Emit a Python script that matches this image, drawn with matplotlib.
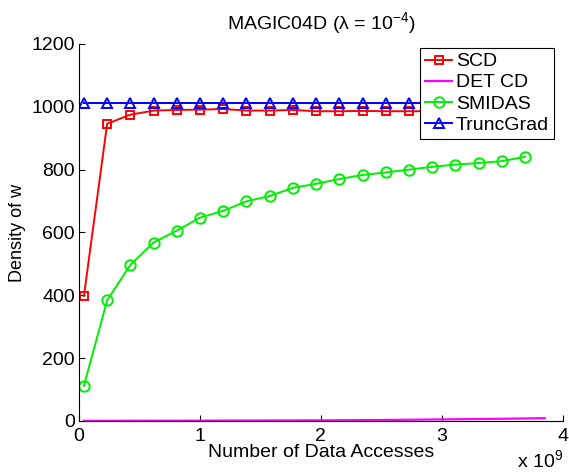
import matplotlib
matplotlib.use('Agg')
import matplotlib.pyplot as plt

plt.rcParams['font.family'] = ['Liberation Sans', 'DejaVu Sans']
plt.rcParams['mathtext.fontset'] = 'custom'
plt.rcParams['mathtext.rm'] = 'Liberation Sans'
plt.rcParams['mathtext.it'] = 'Liberation Sans:italic'

# data accesses (in units of 1e9)
x_steps = [0.04, 0.232, 0.424, 0.616, 0.808, 1.0, 1.192, 1.384, 1.576, 1.768,
           1.96, 2.152, 2.344, 2.536, 2.728, 2.92, 3.112, 3.304, 3.496, 3.688]

scd = [398, 946, 975, 988, 990, 991, 993, 988, 988, 990,
       986, 986, 987, 986, 986, 986, 986, 986, 986, 986]
truncgrad = [1012] * 20
smidas = [112, 384, 497, 568, 606, 647, 669, 699, 716, 742,
          755, 770, 783, 791, 800, 809, 816, 821, 827, 841]

det_x = [0.04, 1.0, 2.0, 2.5, 3.0, 3.5, 3.85]
det_cd = [0.5, 1, 2, 3, 5, 7, 9]

fig = plt.figure(figsize=(5.69, 4.73), dpi=100)
ax = fig.add_axes([0.139, 0.110, 0.850, 0.797])

ax.plot(x_steps, scd, color='red', lw=1.4, marker='s', ms=6, mfc='none', mew=1.4, label='SCD')
ax.plot(det_x, det_cd, color='magenta', lw=1.6, label='DET CD')
ax.plot(x_steps, smidas, color='#00ee00', lw=1.4, marker='o', ms=7.5, mfc='none', mew=1.4, label='SMIDAS')
ax.plot(x_steps, truncgrad, color='blue', lw=1.4, marker='^', ms=6.5, mfc='none', mew=1.4, label='TruncGrad')

ax.set_xlim(0, 4)
ax.set_ylim(0, 1200)
ax.set_xticks([0, 1, 2, 3, 4])
ax.set_yticks([0, 200, 400, 600, 800, 1000, 1200])
ax.spines['top'].set_visible(False)
ax.spines['right'].set_visible(False)
ax.tick_params(direction='in', length=4, labelsize=14)
ax.tick_params(axis='x', pad=5)
ax.tick_params(axis='y', pad=3)

ax.set_title('MAGIC04D (λ = 10$^{-4}$)', fontsize=14, pad=11)
ax.set_xlabel('Number of Data Accesses', fontsize=14, labelpad=-1)
ax.set_ylabel('Density of w', fontsize=13, labelpad=4)
fig.text(0.99, 0.003, 'x 10$^9$', fontsize=14, ha='right', va='bottom')

leg = ax.legend(loc='upper right', bbox_to_anchor=(0.99, 1.0), fontsize=14,
                frameon=True, fancybox=False, edgecolor='black', framealpha=1,
                handlelength=1.4, handletextpad=0.2, borderpad=0.25, labelspacing=0.18,
                borderaxespad=0.2)
leg.get_frame().set_linewidth(0.8)

fig.savefig('out.png', dpi=100)
